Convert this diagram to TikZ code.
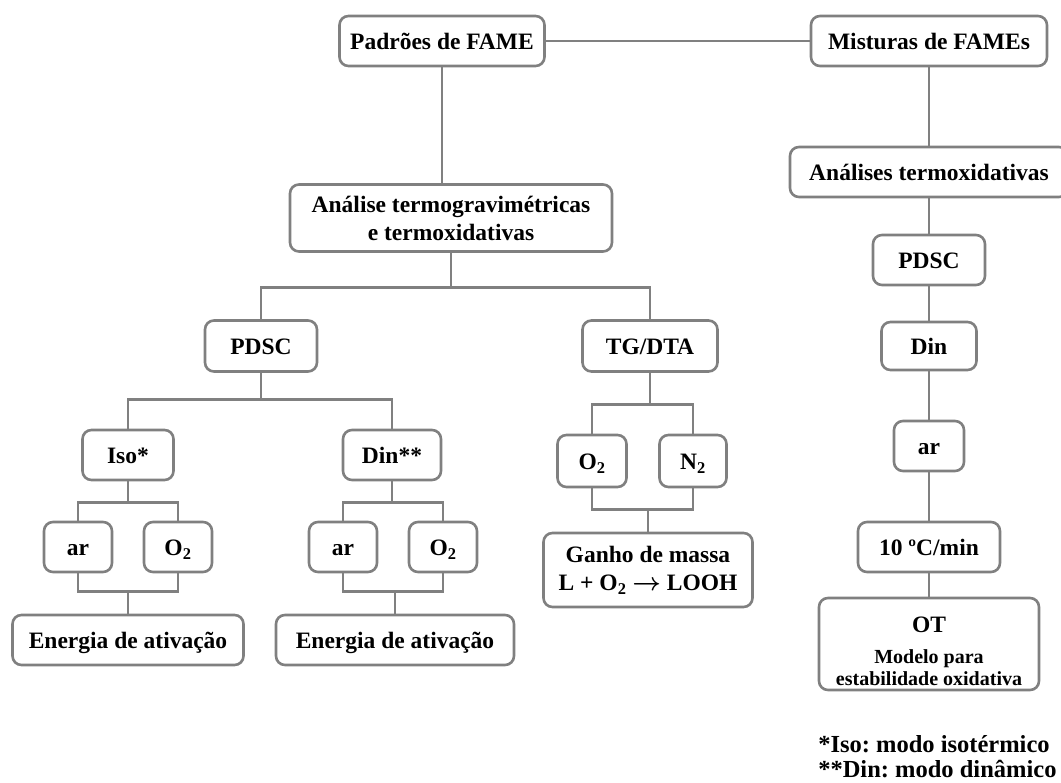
\documentclass[tikz,border=0pt]{standalone}
\usepackage{fontspec}
\setmainfont{Liberation Serif}
\usetikzlibrary{positioning}
\definecolor{linegray}{RGB}{128,128,128}
\newcommand{\smallfont}{\fontsize{20}{22}\selectfont}

\begin{document}
\frenchspacing
\begin{tikzpicture}[x=1pt,y=-1pt,line width=2.6pt,
    box node/.style={draw=linegray,rounded corners=9pt,fill=white,align=center,
      font=\fontsize{23.5}{28}\selectfont\bfseries,inner sep=2pt,minimum height=50pt},
    one line/.style={box node,text height=17pt,text depth=0pt},
    note node/.style={font=\fontsize{24.5}{25}\selectfont\bfseries,align=left,inner sep=0pt},
    link/.style={-,draw=linegray,line width=2.6pt}]
  \useasboundingbox (0,0) rectangle (1061,783);
  % left branch: FAME standards
  \node[one line,minimum width=205pt] (pad) at (442,41) {Padrões de FAME};
  \node[box node,minimum width=322pt,minimum height=67pt] (ana) at (451,218) {Análise termogravimétricas\\e termoxidativas};
  \node[one line,minimum width=112pt,minimum height=51pt] (pdL) at (261,346) {PDSC};
  \node[one line,minimum width=135pt,minimum height=51pt] (tg) at (650,346) {TG/DTA};
  \node[one line,minimum width=91pt] (iso) at (128,455) {Iso*};
  \node[one line,minimum width=98pt] (din) at (392,455) {Din**};
  \node[one line,minimum width=68pt] (arA) at (78,547) {ar};
  \node[one line,minimum width=68pt] (oxA) at (178,547) {O\textsubscript{2}};
  \node[one line,minimum width=68pt] (arB) at (343,547) {ar};
  \node[one line,minimum width=68pt] (oxB) at (443,547) {O\textsubscript{2}};
  \node[one line,minimum width=231pt] (enA) at (128,640) {Energia de ativação};
  \node[one line,minimum width=238pt] (enB) at (395,640) {Energia de ativação};
  \node[one line,minimum width=69pt,minimum height=52pt] (oxC) at (592,461) {O\textsubscript{2}};
  \node[one line,minimum width=67pt,minimum height=52pt] (nit) at (693,461) {N\textsubscript{2}};
  \node[box node,minimum width=209pt,minimum height=74pt] (gan) at (648,570) {Ganho de massa\\L + O\textsubscript{2} {\boldmath$\rightarrow$} LOOH};
  % right branch: FAME blends
  \node[one line,minimum width=236pt] (mis) at (929,41) {Misturas de FAMEs};
  \node[one line,minimum width=278pt] (anr) at (929,172) {Análises termoxidativas};
  \node[one line,minimum width=112pt] (pdR) at (929,260) {PDSC};
  \node[one line,minimum width=95pt,minimum height=48pt] (dinR) at (929,346) {Din};
  \node[one line,minimum width=70pt] (arR) at (929,446) {ar};
  \node[one line,minimum width=142pt] (rate) at (929,547) {10 ºC/min};
  \node[box node,minimum width=220pt,minimum height=92pt,inner ysep=0pt,
    font=\fontsize{23.5}{22}\selectfont\bfseries] (ot) at (929,644)
    {\rule{0pt}{31pt}OT\\[9pt]\smallfont Modelo para\\\smallfont estabilidade oxidativa};
  \node[note node,anchor=west] (fn) at (817,757) {*Iso: modo isotérmico\\**Din: modo dinâmico};
  % junctions
  \path (ana.south) ++(0,35) coordinate (jAna);
  \path (pdL.south) ++(0,27) coordinate (jPd);
  \path (iso.south) ++(0,21) coordinate (jIso);
  \path (din.south) ++(0,21) coordinate (jDin);
  \path (tg.south) ++(0,32) coordinate (jTg);
  \path (enA.north) ++(0,-22) coordinate (mA);
  \path (enB.north) ++(0,-22) coordinate (mB);
  \path (gan.north) ++(0,-22) coordinate (mG);
  % connectors
  \path[link] (pad) edge (mis);
  \path[link] (pad.south) edge (pad.south |- ana.north);
  \path[link] (mis.south) edge (anr.north);
  \path[link] (anr.south) edge (pdR.north);
  \path[link] (pdR.south) edge (dinR.north);
  \path[link] (dinR.south) edge (arR.north);
  \path[link] (arR.south) edge (rate.north);
  \path[link] (rate.south) edge (ot.north);
  \draw[link] (ana.south) -- (jAna);
  \draw[link] (pdL.north) |- (jAna) -| (tg.north);
  \draw[link] (pdL.south) -- (jPd);
  \draw[link] (iso.north) |- (jPd) -| (din.north);
  \draw[link] (iso.south) -- (jIso);
  \draw[link] (arA.north) |- (jIso) -| (oxA.north);
  \draw[link] (din.south) -- (jDin);
  \draw[link] (arB.north) |- (jDin) -| (oxB.north);
  \draw[link] (arA.south) |- (mA) -| (oxA.south);
  \draw[link] (mA) -- (enA.north);
  \draw[link] (arB.south) |- (mB) -| (oxB.south);
  \draw[link] (mB) -- (enB.north);
  \draw[link] (tg.south) -- (jTg);
  \draw[link] (oxC.north) |- (jTg) -| (nit.north);
  \draw[link] (oxC.south) |- (mG) -| (nit.south);
  \draw[link] (mG) -- (gan.north);
\end{tikzpicture}
\end{document}
